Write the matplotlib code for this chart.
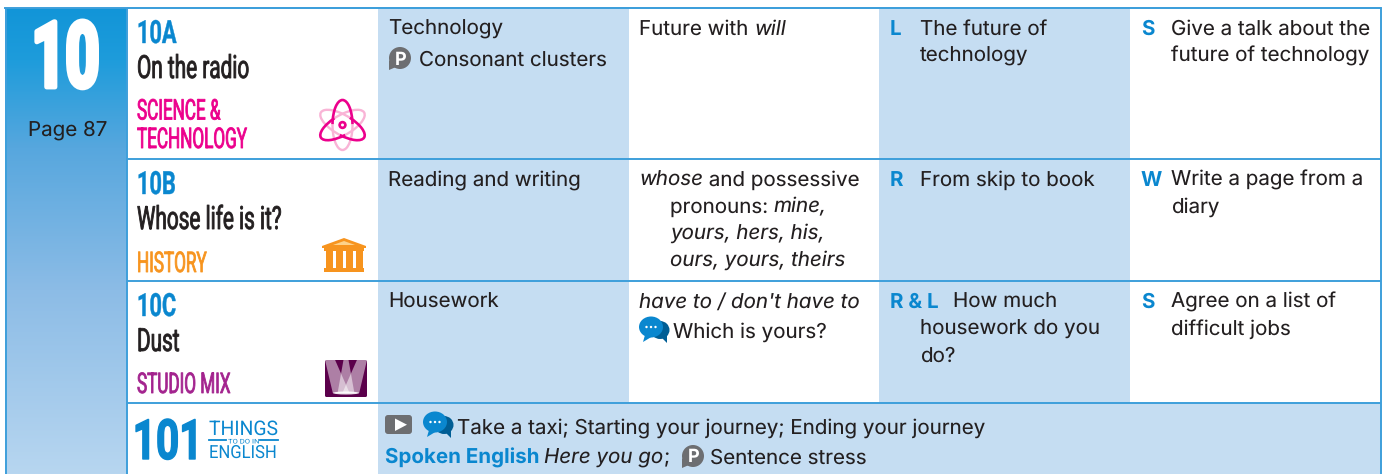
import numpy as np
import matplotlib
matplotlib.use('Agg')
import matplotlib.pyplot as plt
from matplotlib.colors import LinearSegmentedColormap
from matplotlib.font_manager import FontProperties
from matplotlib.patches import Arc, Circle, Ellipse, FancyBboxPatch, Polygon, Rectangle
from matplotlib.patheffects import AbstractPathEffect
from matplotlib.transforms import Affine2D

plt.rcParams['text.hinting'] = 'no_hinting'
plt.rcParams['text.hinting_factor'] = 1

# Text content of the table
unit_number = '10'
unit_page = 'Page 87'
lesson_codes = ['10A', '10B', '10C']
lesson_titles = ['On the radio', 'Whose life is it?', 'Dust']
lesson_topics = [['SCIENCE &', 'TECHNOLOGY'], ['HISTORY'], ['STUDIO MIX']]
topic_colors = ['#EC008C', '#F7941E', '#A3238E']
vocab_cells = ['Technology', 'Reading and writing', 'Housework']
pron_cell = 'Consonant clusters'
grammar_cells = [
    [[('Future with ', 0), ('will', 1)]],
    [[('whose', 1), (' and possessive', 0)], [('pronouns: ', 0), ('mine,', 1)],
     [('yours, hers, his,', 1)], [('ours, yours, theirs', 1)]],
    [[("have to / don't have to", 1)], [('Which is yours?', 0)]],
]
skill1_letters = ['L', 'R', 'R & L']
skill1_lines = [['The future of', 'technology'], ['From skip to book'],
                ['How much', 'housework do you', 'do?']]
skill2_letters = ['S', 'W', 'S']
skill2_lines = [['Give a talk about the', 'future of technology'],
                ['Write a page from a', 'diary'],
                ['Agree on a list of', 'difficult jobs']]
bottom_line1 = 'Take a taxi; Starting your journey; Ending your journey'
bottom_bold = 'Spoken English'
bottom_italic = 'Here you go'
bottom_stress = 'Sentence stress'

# Layout in pixels
W, H = 1387, 474
row_y = [8, 159, 281, 403, 474]
col_x = [127, 378, 629, 879, 1130, 1381]
topic_base = [140, 113, 112]
ink = '#231F20'
blue = '#0A87CF'
line_blue = '#3E9FDB'
pale = '#C5DDF2'
body = 'Inter'
head = 'Roboto'
BODY_SIZE = 14.8


class Squeeze(AbstractPathEffect):
    # narrows the glyphs and can fatten them, there is no condensed face installed
    def __init__(self, sx, lw=0, from_right=False):
        super().__init__()
        self.sx = sx
        self.lw = lw
        self.from_right = from_right

    def draw_path(self, renderer, gc, tpath, affine, rgbFace=None):
        gc0 = renderer.new_gc()
        gc0.copy_properties(gc)
        if self.lw > 0:
            gc0.set_linewidth(self.lw)
            gc0.set_foreground(rgbFace)
        squeeze = Affine2D().scale(self.sx, 1)
        if self.from_right:
            w = tpath.get_extents().x1
            squeeze = Affine2D().translate(-w, 0).scale(self.sx, 1).translate(w, 0)
        renderer.draw_path(gc0, tpath, squeeze + affine, rgbFace)
        gc0.restore()


fig = plt.figure(figsize=(W / 100, H / 100), dpi=100)
ax = fig.add_axes([0, 0, 1, 1])
ax.set_xlim(0, W)
ax.set_ylim(H, 0)
ax.axis('off')
rend = fig.canvas.get_renderer()


def body_text(x, y, s, italic=False, bold=False, color=ink, size=BODY_SIZE):
    return ax.text(x, y, s, fontsize=size, family=body, color=color, va='baseline', ha='left',
                   style='italic' if italic else 'normal', weight='bold' if bold else 'normal')


def run_width(s, italic=False, bold=False, size=BODY_SIZE):
    prop = FontProperties(family=body, size=size, style='italic' if italic else 'normal',
                          weight='bold' if bold else 'normal')
    w1 = rend.get_text_width_height_descent('|' + s + '|', prop, False)[0]
    w0 = rend.get_text_width_height_descent('||', prop, False)[0]
    return w1 - w0


def head_text(x, y, s, size, color, sx, weight='normal', lw=0, ha='left'):
    t = ax.text(x, y, s, fontsize=size, family=head, weight=weight, color=color,
                va='baseline', ha=ha)
    t.set_path_effects([Squeeze(sx, lw, ha == 'right')])
    return t


def p_icon(x, y):
    c = '#6D6E71'
    ax.add_patch(Circle((x, y), 11, color=c, lw=0, zorder=3))
    ax.add_patch(Polygon([(x - 11, y + 2), (x - 11, y + 12), (x - 4, y + 9)], color=c, lw=0, zorder=3))
    ax.text(x + 0.5, y + 6.5, 'P', fontsize=13, family=body, weight='bold', color='white', ha='center',
            va='baseline', zorder=4)


def chat_icon(x, y, s=1.0):
    ax.add_patch(Ellipse((x + 9 * s, y + 3 * s), 19 * s, 18 * s, color='#005E95', lw=0, zorder=3))
    ax.add_patch(Polygon([(x + 10 * s, y + 10 * s), (x + 16 * s, y + 16 * s), (x + 16 * s, y + 7 * s)],
                         color='#005E95', lw=0, zorder=3))
    ax.add_patch(Ellipse((x, y), 24 * s, 21 * s, color=blue, lw=0, zorder=4))
    ax.add_patch(Polygon([(x - 6 * s, y + 8 * s), (x - 8 * s, y + 15 * s), (x + 2 * s, y + 9 * s)],
                         color=blue, lw=0, zorder=4))
    for dx in (-4.5, 0, 4.5):
        ax.add_patch(Circle((x + dx * s, y), 1.2 * s, color='white', lw=0, zorder=5))


def atom_icon(x, y):
    hot, soft = '#EC008C', '#F9B4D6'
    for ang, hot_from, hot_to in [(90, 95, 265), (30, -75, 75), (-30, 105, 250)]:
        ax.add_patch(Arc((x, y), 50, 20, angle=ang, theta1=hot_to, theta2=hot_from + 360 if hot_from < hot_to else hot_from,
                         ec=soft, lw=1.7, zorder=3))
    for ang, hot_from, hot_to in [(90, 95, 265), (30, -75, 75), (-30, 105, 250)]:
        ax.add_patch(Arc((x, y), 50, 20, angle=ang, theta1=hot_from, theta2=hot_to, ec=hot, lw=1.9, zorder=4))
    ax.add_patch(Circle((x, y), 4.2, color=hot, lw=0, zorder=5))
    ax.add_patch(Circle((x, y), 1.5, color='white', lw=0, zorder=6))


def temple_icon(x, y):
    c = '#F7941E'
    ax.add_patch(Polygon([(x - 22, y + 8), (x, y), (x + 22, y + 8), (x + 22, y + 10), (x - 22, y + 10)], color=c, lw=0))
    ax.add_patch(Polygon([(x - 11, y + 7), (x, y + 3), (x + 11, y + 7)], color='#FDD28A', lw=0))
    ax.add_patch(Rectangle((x - 20, y + 10), 40, 3, color=c, lw=0))
    for dx in (-18.5, -8.5, 1.5, 11.5):
        ax.add_patch(Rectangle((x + dx, y + 13), 7.5, 18, color=c, lw=0))
    ax.add_patch(Rectangle((x - 20, y + 30), 40, 4, color=c, lw=0))


def studio_icon(x0, y0, x1, y1):
    ax.add_patch(FancyBboxPatch((x0, y0), x1 - x0, y1 - y0, boxstyle='round,pad=0,rounding_size=1.5',
                                fc='#5B004B', ec='none', lw=0))
    w = x1 - x0
    for top, half in ((0.12, 0.12), (0.5, 0.06), (0.88, 0.12)):
        ax.add_patch(Polygon([(x0 + w * (top - half), y0), (x0 + w * (top + half), y0),
                              (x0 + w * (0.5 + (top - 0.5) * 0.3 + 0.2), y1 - 4),
                              (x0 + w * (0.5 + (top - 0.5) * 0.3 - 0.2), y1 - 4)],
                             color='white', alpha=0.5, lw=0))
    ax.add_patch(Ellipse((x0 + w / 2, y1 - 4), w * 0.62, 3, color='white', alpha=0.9, lw=0))


# Left column with the vertical gradient
grad = LinearSegmentedColormap.from_list('unit', [(0, '#1295D8'), (0.11, '#1E9CDB'), (0.3, '#57A7DE'),
                                                  (0.605, '#8CBCE6'), (1, '#B7D6F0')])
ax.imshow(np.linspace(0, 1, 256).reshape(-1, 1), cmap=grad, aspect='auto',
          extent=[5, col_x[0], H, row_y[0]], zorder=0)
ax.set_xlim(0, W)
ax.set_ylim(H, 0)

# Cell backgrounds
ax.add_patch(Rectangle((col_x[0], row_y[0]), col_x[5] - col_x[0], H - row_y[0], color='white', lw=0, zorder=0))
for i in (1, 3):
    ax.add_patch(Rectangle((col_x[i], row_y[0]), col_x[i + 1] - col_x[i], row_y[3] - row_y[0],
                           color=pale, lw=0, zorder=0))
ax.add_patch(Rectangle((col_x[1], row_y[3]), col_x[5] - col_x[1], H - row_y[3], color=pale, lw=0, zorder=0))

# Borders
for y in row_y[:4]:
    ax.plot([col_x[0], col_x[5]], [y, y], color=line_blue, lw=1.4, zorder=2, solid_capstyle='butt')
ax.plot([5, col_x[5]], [row_y[0], row_y[0]], color=line_blue, lw=1.4, zorder=2)
for x in (5.5, col_x[0], col_x[5]):
    ax.plot([x, x], [row_y[0], H], color=line_blue, lw=1.4, zorder=2, solid_capstyle='butt')

# Unit number
head_text(32, 87, unit_number, 66, 'white', 0.64, 'bold', 3.5)
body_text(27.5, 136, unit_page)

# Rows
for r in range(3):
    top = row_y[r]
    base = top + 26.5 + 0.5 * (r > 0)
    head_text(137, top + 35, lesson_codes[r], 23, blue, 0.68, 'bold', 0.3)
    head_text(137, top + 70, lesson_titles[r], 23, ink, 0.65, 'normal', 0.6)
    for k, s in enumerate(lesson_topics[r][::-1]):
        head_text(137, top + topic_base[r] - 28.5 * k, s, 20.5, topic_colors[r], 0.6, 'normal', 0.6)

    body_text(388.5, base, vocab_cells[r])

    # grammar column
    for k, runs in enumerate(grammar_cells[r]):
        x = 639 if k == 0 else 670
        if r == 2 and k == 1:
            x = 673
        y = base + k * (26.5 if r == 1 else 30)
        for s, it in runs:
            body_text(x, y, s, italic=bool(it))
            x += run_width(s, italic=bool(it))

    # first skill column
    body_text(890, base, skill1_letters[r], bold=True, color=blue)
    for k, s in enumerate(skill1_lines[r]):
        x = 953 if (r == 2 and k == 0) else 920
        body_text(x, base + k * 27, s)

    # second skill column
    body_text(1141, base, skill2_letters[r], bold=True, color=blue)
    for k, s in enumerate(skill2_lines[r]):
        body_text(1171, base + k * 27, s)

# Icons in the table
p_icon(400, 58)
body_text(419, 65.5, pron_cell)
atom_icon(342.5, 125)
temple_icon(344, 238)
studio_icon(325, 360, 367, 397)
chat_icon(651, 327)

# Bottom row
head_text(206, 459, '101', 40, blue, 0.73, 'bold', 1.0, ha='right')
head_text(209, 435, 'THINGS', 14.5, blue, 0.96)
ax.plot([209, 226], [439.5, 439.5], color=blue, lw=1.3)
ax.plot([260, 278], [439.5, 439.5], color=blue, lw=1.3)
head_text(228, 443.5, 'TO DO IN', 4.6, blue, 1.2)
head_text(209, 458, 'ENGLISH', 13, blue, 0.92)

ax.add_patch(FancyBboxPatch((385, 415), 27, 19, boxstyle='round,pad=0,rounding_size=3', fc='#6D6E71', ec='none',
                            lw=0, zorder=3))
ax.add_patch(Polygon([(395, 418.5), (395, 431), (407, 424.7)], color='white', lw=0, zorder=4))
chat_icon(435, 422)
body_text(457, 433.5, bottom_line1)
body_text(385, 463.5, bottom_bold, bold=True, color=blue)
x = 385 + run_width(bottom_bold + ' ', bold=True)
body_text(x, 463.5, bottom_italic, italic=True)
x += run_width(bottom_italic, italic=True)
body_text(x, 463.5, ';')
p_icon(693, 456)
body_text(710, 463.5, bottom_stress)

fig.savefig('out.png', dpi=100)
